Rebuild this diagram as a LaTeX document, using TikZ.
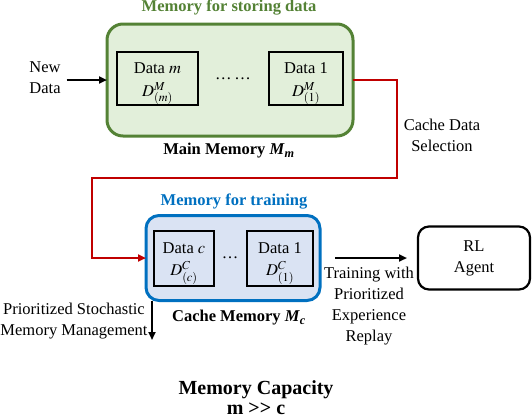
\documentclass[tikz,border=0pt]{standalone}
\usepackage{mathptmx}
\usepackage{fontspec}
\setmainfont{Liberation Serif}
\usetikzlibrary{arrows.meta}
\definecolor{mgreen}{RGB}{84,130,53}
\definecolor{lgreen}{RGB}{226,239,218}
\definecolor{mblue}{RGB}{0,112,192}
\definecolor{lblue}{RGB}{218,227,243}
\definecolor{mred}{RGB}{192,0,0}
\begin{document}
\begin{tikzpicture}[x=1pt,y=-1pt,
  font=\fontsize{16.5}{21}\selectfont,
  every node/.style={inner sep=0pt, outer sep=0pt},
  databox/.style={draw=black, line width=2pt, minimum height=53pt},
  datatext/.style={anchor=base, align=center},
  arr/.style={-{Triangle[length=8pt,width=7pt]}, line width=2pt},
  redline/.style={draw=mred, line width=2.8pt, -{Triangle[length=8pt,width=7pt]}},
  lbl/.style={align=center},
  title/.style={font=\fontsize{16.5}{21}\selectfont\bfseries}]
\useasboundingbox (0,0) rectangle (532,418);

% main memory
\node[draw=mgreen, fill=lgreen, line width=3pt, rounded corners=16pt,
      minimum width=246pt, minimum height=112pt] (main) at (230,80) {};
\node[databox, minimum width=81pt] (dm) at (157.5,78.5) {};
\node[databox, minimum width=74pt] (d1) at (306,78.5) {};
\node[datatext] (dmt) at (157.5,96) {Data $m$\\[1.5pt]$D^{M}_{(m)}$};
\node[datatext] (d1t) at (306,96) {Data 1\\[1.5pt]$D^{M}_{(1)}$};
\node (dots1) at (233,79) {\ldots\,\ldots};
\node[title, text=mgreen] (t1) at (229,8) {Memory for storing data};
\node[title] (mlabel) at (229,151) {Main Memory \textit{M}\textsubscript{\textit{m}}};

% new data
\node[lbl] (new) at (45,78) {New\\Data};
\draw[arr] ([xshift=6pt]new.east |- main.west) -- (main.west);

% cache memory
\node[draw=mblue, fill=lblue, line width=3pt, rounded corners=13pt,
      minimum width=174pt, minimum height=85pt] (cache) at (233,258) {};
\node[databox, minimum width=60pt, minimum height=55pt] (dc) at (184,258) {};
\node[databox, minimum width=66pt, minimum height=55pt] (d1c) at (280,258) {};
\node[datatext] (dct) at (184,275.5) {Data $c$\\[1pt]$D^{C}_{(c)}$};
\node[datatext] (d1ct) at (280,275.5) {Data 1\\[1pt]$D^{C}_{(1)}$};
\node (dots2) at (230,258) {\ldots};
\node[title, text=mblue] (t2) at (234,202) {Memory for training};
\node[title] (clabel) at (239,318) {Cache Memory \textit{M}\textsubscript{\textit{c}}};

% red connector
\node[lbl] (cds) at (442,135) {Cache Data\\Selection};
\coordinate (bend1) at (397,178);
\coordinate (redx) at (92,0);
\draw[redline] (main.east) -| (bend1) -| (redx |- cache.west) -- (cache.west);

% RL agent
\node[draw=black, line width=2.2pt, rounded corners=11pt, minimum width=112pt,
      minimum height=63pt, align=center] (rl) at (474,258) {RL\\Agent};
\draw[arr] ([xshift=15pt]cache.east) -- ([xshift=-11pt]rl.west);
\node[lbl] (train) at (369,306) {Training with\\Prioritized\\Experience\\Replay};

% stochastic management
\coordinate (pend) at (152,340);
\draw[arr] (pend |- cache.south) -- (pend);
\node[lbl] (psm) at (74,321) {Prioritized Stochastic\\Memory Management};

% capacity
\node[align=center, font=\fontsize{20}{20}\selectfont\bfseries] (cap) at (256,398) {Memory Capacity\\m {>}{>} c};
\end{tikzpicture}
\end{document}
